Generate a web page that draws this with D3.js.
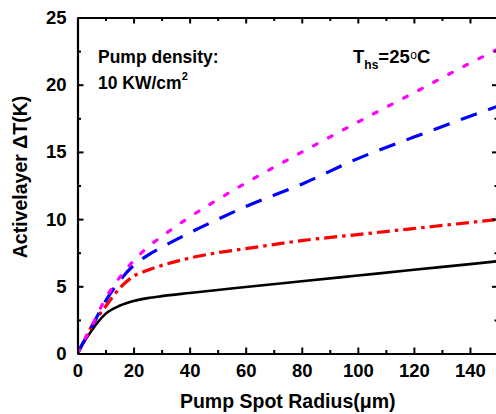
<!DOCTYPE html>
<html>
<head>
<meta charset="utf-8">
<script src="https://cdn.jsdelivr.net/npm/d3@7"></script>
<style>
  html, body { margin: 0; padding: 0; background: #fff; overflow: hidden; }
  svg { display: block; font-family: Arial, "Liberation Sans", sans-serif; font-weight: bold; }
</style>
</head>
<body>
<svg id="chart" width="496" height="414"></svg>
<script>
// ---- data ----
const radius   = [0, 2, 5, 10, 15, 20, 25, 30, 40, 50, 60, 80, 100, 120, 140, 150];
const blackVals   = [0, 0.75, 1.7, 2.95, 3.55, 3.9, 4.12, 4.27, 4.5, 4.72, 4.95, 5.37, 5.8, 6.23, 6.65, 6.87];
const redVals     = [0, 0.8, 2.0, 3.5, 4.85, 5.75, 6.2, 6.55, 7.1, 7.5, 7.8, 8.4, 8.85, 9.3, 9.75, 9.98];
const blueVals    = [0, 0.8, 1.95, 3.9, 5.4, 6.55, 7.3, 7.9, 8.98, 9.98, 10.93, 12.6, 14.5, 16.1, 17.65, 18.4];
const magentaVals = [0, 0.82, 2.0, 4.1, 5.65, 6.9, 7.9, 8.7, 10.15, 11.45, 12.68, 14.98, 17.22, 19.4, 21.6, 22.65];
const xTicks = [0, 20, 40, 60, 80, 100, 120, 140];
const yTicks = [0, 5, 10, 15, 20, 25];

const series = [
  { name: "black",   values: blackVals,   color: "#000000", dash: null },
  { name: "red",     values: redVals,     color: "#ff0000", dash: "13,5,3.5,5" },
  { name: "blue",    values: blueVals,    color: "#0000ff", dash: "17,12" },
  { name: "magenta", values: magentaVals, color: "#ff00ff", dash: "4,13" }
];

const svg = d3.select("#chart");
const x = d3.scaleLinear().domain([0, 150]).range([77.5, 498]);
const y = d3.scaleLinear().domain([0, 25]).range([353.5, 17.5]);

const plot = svg.append("g");
plot.append("defs").append("clipPath").attr("id", "clip")
  .append("rect").attr("x", x(0)).attr("y", y(25)).attr("width", x(150) - x(0)).attr("height", y(0) - y(25));

const line = d3.line().x(d => x(d[0])).y(d => y(d[1])).curve(d3.curveMonotoneX);

const lines = plot.append("g").attr("clip-path", "url(#clip)");
series.forEach(s => {
  const pts = radius.map((r, i) => [r, s.values[i]]);
  lines.append("path")
    .attr("d", line(pts))
    .attr("fill", "none")
    .attr("stroke", s.color)
    .attr("stroke-width", s.name === "black" ? 2.6 : 3.2)
    .attr("stroke-dasharray", s.dash)
    .attr("stroke-linecap", s.name === "magenta" ? "round" : "butt");
});

// ---- axes ----
const minorX = d3.range(10, 150, 20);
const minorY = d3.range(2.5, 25, 5);

function styleAxis(g) {
  g.selectAll(".domain").attr("stroke-width", 2.2);
  g.selectAll(".tick line").attr("stroke-width", 2);
  g.selectAll("text").attr("font-size", 18.5).attr("font-weight", "bold")
    .attr("font-family", "Arial, 'Liberation Sans', sans-serif").attr("fill", "#000");
}

// bottom
const gB = svg.append("g").attr("transform", `translate(0,${y(0)})`)
  .call(d3.axisBottom(x).tickValues(xTicks).tickSizeInner(-6).tickSizeOuter(0).tickPadding(10).tickFormat(d3.format("d")));
styleAxis(gB);
svg.append("g").attr("transform", `translate(0,${y(0)})`)
  .call(d3.axisBottom(x).tickValues(minorX).tickSize(-3.5).tickFormat(""))
  .call(g => { g.select(".domain").remove(); g.selectAll(".tick line").attr("stroke-width", 2); });

// top
const gT = svg.append("g").attr("transform", `translate(0,${y(25)})`)
  .call(d3.axisTop(x).tickValues(xTicks).tickSizeInner(-6).tickSizeOuter(0).tickFormat(""));
styleAxis(gT);
svg.append("g").attr("transform", `translate(0,${y(25)})`)
  .call(d3.axisTop(x).tickValues(minorX).tickSize(-3.5).tickFormat(""))
  .call(g => { g.select(".domain").remove(); g.selectAll(".tick line").attr("stroke-width", 2); });

// left
const gL = svg.append("g").attr("transform", `translate(${x(0)},0)`)
  .call(d3.axisLeft(y).tickValues(yTicks).tickSizeInner(-6).tickSizeOuter(0).tickPadding(11).tickFormat(d3.format("d")));
styleAxis(gL);
svg.append("g").attr("transform", `translate(${x(0)},0)`)
  .call(d3.axisLeft(y).tickValues(minorY).tickSize(-3.5).tickFormat(""))
  .call(g => { g.select(".domain").remove(); g.selectAll(".tick line").attr("stroke-width", 2); });

// right
const gR = svg.append("g").attr("transform", `translate(${x(150)},0)`)
  .call(d3.axisRight(y).tickValues(yTicks).tickSizeInner(-6).tickSizeOuter(0).tickFormat(""));
styleAxis(gR);
svg.append("g").attr("transform", `translate(${x(150)},0)`)
  .call(d3.axisRight(y).tickValues(minorY).tickSize(-3.5).tickFormat(""))
  .call(g => { g.select(".domain").remove(); g.selectAll(".tick line").attr("stroke-width", 2); });

// ---- titles ----
svg.append("text")
  .attr("x", (x(0) + x(150)) / 2).attr("y", 408)
  .attr("text-anchor", "middle").attr("font-size", 19.5)
  .text("Pump Spot Radius(μm)");

svg.append("text")
  .attr("transform", "translate(27,177) rotate(-90)")
  .attr("text-anchor", "middle").attr("font-size", 19.5)
  .text("Activelayer ΔT(K)");

// ---- annotations ----
svg.append("text").attr("x", 98).attr("y", 63).attr("font-size", 17.5).text("Pump density:");
const t2 = svg.append("text").attr("x", 98).attr("y", 89).attr("font-size", 17.5);
t2.append("tspan").text("10 KW/cm");
t2.append("tspan").attr("font-size", 11).attr("dy", -9).text("2");

const t3 = svg.append("text").attr("x", 353).attr("y", 63).attr("font-size", 18.5);
t3.append("tspan").text("T");
t3.append("tspan").attr("font-size", 12).attr("dy", 6).text("hs");
t3.append("tspan").attr("dy", -6).text("=25");
t3.append("tspan").attr("font-weight", "normal").attr("font-size", 12).attr("dy", -4).attr("dx", 0.5).text("o");
t3.append("tspan").attr("dy", 4).text("C");
</script>
</body>
</html>
